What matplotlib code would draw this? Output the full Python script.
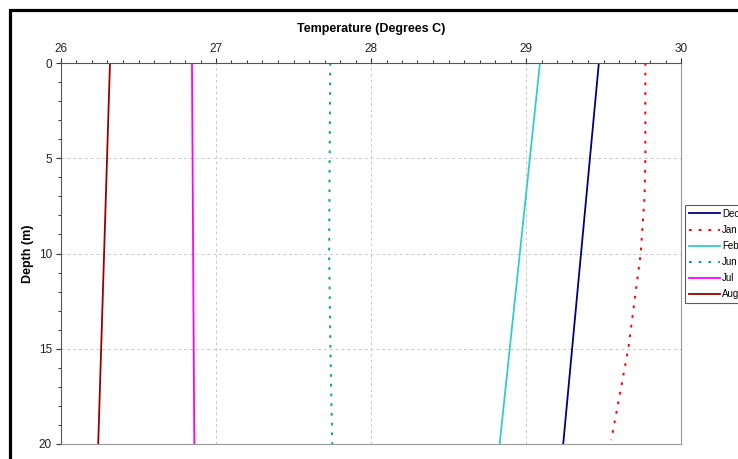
import matplotlib.pyplot as plt
from matplotlib.lines import Line2D
from matplotlib.ticker import MultipleLocator

# depth profiles
depth_dec = [0, 20]
temp_dec = [29.47, 29.24]

depth_jan = [0, 5, 7, 10, 15, 19.8]
temp_jan = [29.77, 29.77, 29.765, 29.74, 29.66, 29.55]

depth_feb = [0, 20]
temp_feb = [29.09, 28.83]

depth_jun = [0, 5, 10, 15, 20]
temp_jun = [27.737, 27.733, 27.73, 27.738, 27.75]

depth_jul = [0, 20]
temp_jul = [26.845, 26.86]

depth_aug = [0, 20]
temp_aug = [26.316, 26.24]

xticks = [26, 27, 28, 29, 30]
yticks = [0, 5, 10, 15, 20]

plt.rcParams['font.family'] = ['Liberation Sans', 'DejaVu Sans']

fig = plt.figure(figsize=(7.38, 4.59), dpi=100)
ax = fig.add_axes([61 / 738, 1 - 444 / 459, 620 / 738, 381 / 459])

ax.plot(temp_dec, depth_dec, color='#000080', lw=1.3, label='Dec')
ax.plot(temp_jan, depth_jan, color='#ff0000', lw=1.4, ls=(0, (1.4, 3.6)), label='Jan')
ax.plot(temp_feb, depth_feb, color='#33cccc', lw=1.3, label='Feb')
ax.plot(temp_jun, depth_jun, color='#149999', lw=1.4, ls=(0, (1.4, 3.6)), label='Jun')
ax.plot(temp_jul, depth_jul, color='#ff00ff', lw=1.3, label='Jul')
ax.plot(temp_aug, depth_aug, color='#990000', lw=1.3, label='Aug')

ax.set_xlim(26, 30)
ax.set_ylim(20, 0)
ax.set_xticks(xticks)
ax.set_yticks(yticks)
ax.xaxis.set_minor_locator(MultipleLocator(0.1))
ax.yaxis.set_minor_locator(MultipleLocator(1))
ax.xaxis.tick_top()
ax.xaxis.set_label_position('top')
ax.tick_params(axis='both', which='major', direction='out', length=3.5, width=0.8,
               color='#333333', labelsize=8.5, labelcolor='#222222')
ax.tick_params(axis='x', which='major', pad=2.5)
ax.tick_params(axis='y', which='major', pad=3)
ax.tick_params(axis='both', which='minor', direction='out', length=2.2, width=0.7,
               color='#333333')
ax.grid(True, which='major', color='#c8c8c8', ls=(0, (3, 3)), lw=0.7)

for side in ['right', 'bottom']:
    ax.spines[side].set_color('#999999')
for side in ['top', 'left']:
    ax.spines[side].set_color('#555555')

ax.set_xlabel('Temperature (Degrees C)', fontsize=9, fontweight='bold')
ax.set_ylabel('Depth (m)', fontsize=9, fontweight='bold')
ax.xaxis.set_label_coords(0.5, 1 + (63 - 32) / 381)
ax.yaxis.set_label_coords((34 - 61) / 620, 0.5)

leg = ax.legend(loc='upper left', bbox_to_anchor=(624 / 620, 1 - (205 - 63) / 381),
                fontsize=7, frameon=True, fancybox=False, borderaxespad=0,
                handlelength=3.2, handletextpad=0.2, labelspacing=0.62,
                borderpad=0.4)
leg.get_frame().set_edgecolor('#333333')
leg.get_frame().set_linewidth(0.8)

# black frame at top-left of the image
fig.add_artist(Line2D([9.5 / 738, 9.5 / 738, 1], [0, 1 - 9.5 / 459, 1 - 9.5 / 459],
                      transform=fig.transFigure, color='black', lw=2.3,
                      solid_joinstyle='miter'))

fig.savefig('out.png', dpi=100)
